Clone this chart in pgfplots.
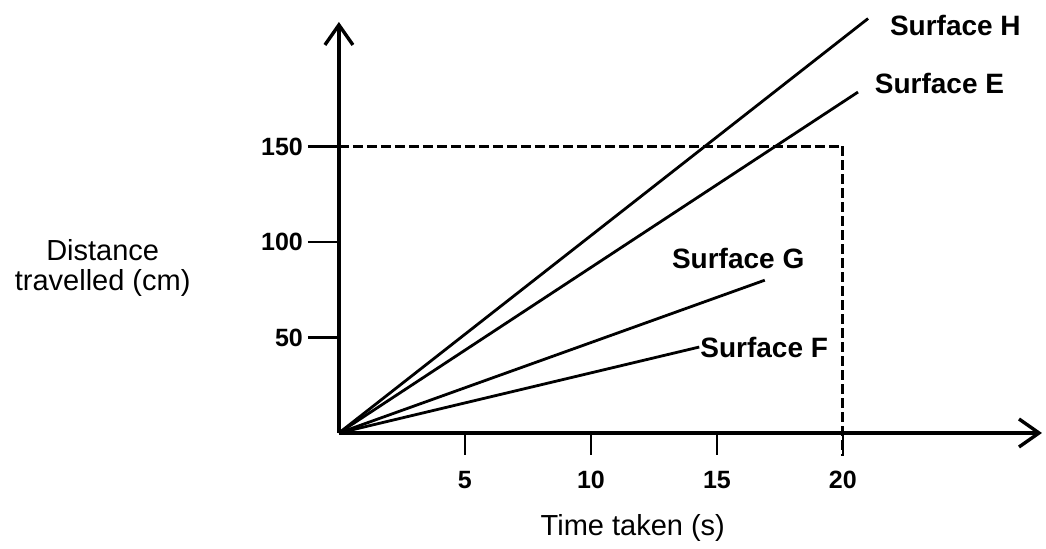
\documentclass[border=0pt]{standalone}
\usepackage{fontspec}
\setmainfont{Liberation Sans}
\usepackage{pgfplots}
\pgfplotsset{compat=1.18}
\usetikzlibrary{arrows.meta}
\begin{document}
\begin{tikzpicture}
\begin{axis}[
  x=12.6pt, y=0.955pt,
  xmin=0, xmax=27.9, ymin=0, ymax=215.2,
  axis lines=left,
  axis line style={line width=1.7pt, -{Straight Barb[length=10pt,width=14pt,line width=1.7pt]}},
  xtick={5,10,15,20}, ytick={50,100,150},
  tick align=outside, major tick length=15.5pt,
  x tick style={/pgfplots/major tick length=11pt},
  tick style={line width=1.3pt, black},
  tick label style={font=\bfseries\fontsize{12.5}{14}\selectfont},
  xticklabel style={yshift=0pt},
  yticklabel style={xshift=1pt},
  /pgf/number format/assume math mode=true,
  xlabel={Time taken (s)}, ylabel={Distance\\travelled (cm)},
  every axis x label/.style={at={(axis description cs:0.418,-0.231)}, anchor=center, font=\fontsize{14.5}{17}\selectfont},
  every axis y label/.style={at={(axis description cs:-0.336,0.402)}, anchor=center, align=center, font=\fontsize{14.5}{15}\selectfont},
  clip=false,
]
\addplot[black, line width=1.4pt] coordinates {(0,0) (21.0,217)};
\addplot[black, line width=1.4pt] coordinates {(0,0) (20.6,178.5)};
\addplot[black, line width=1.4pt] coordinates {(0,0) (16.9,80)};
\addplot[black, line width=1.4pt] coordinates {(0,0) (14.3,45)};
\addplot[black, line width=1.4pt, dash pattern=on 5pt off 2pt] coordinates {(0,150) (20,150) (20,-12)};
\node[anchor=west, font=\bfseries\fontsize{14}{16}\selectfont] at (axis cs:21.59,213.6) {Surface H};
\node[anchor=west, font=\bfseries\fontsize{14}{16}\selectfont] at (axis cs:20.99,183.2) {Surface E};
\node[anchor=west, font=\bfseries\fontsize{14}{16}\selectfont] at (axis cs:12.94,91.6) {Surface G};
\node[anchor=west, inner sep=0pt, font=\bfseries\fontsize{14}{16}\selectfont] at (axis cs:14.33,45.0) {Surface F};
\path (axis cs:-13.45,226.7) rectangle (axis cs:28.06,-58.6);
\end{axis}
\end{tikzpicture}
\end{document}
